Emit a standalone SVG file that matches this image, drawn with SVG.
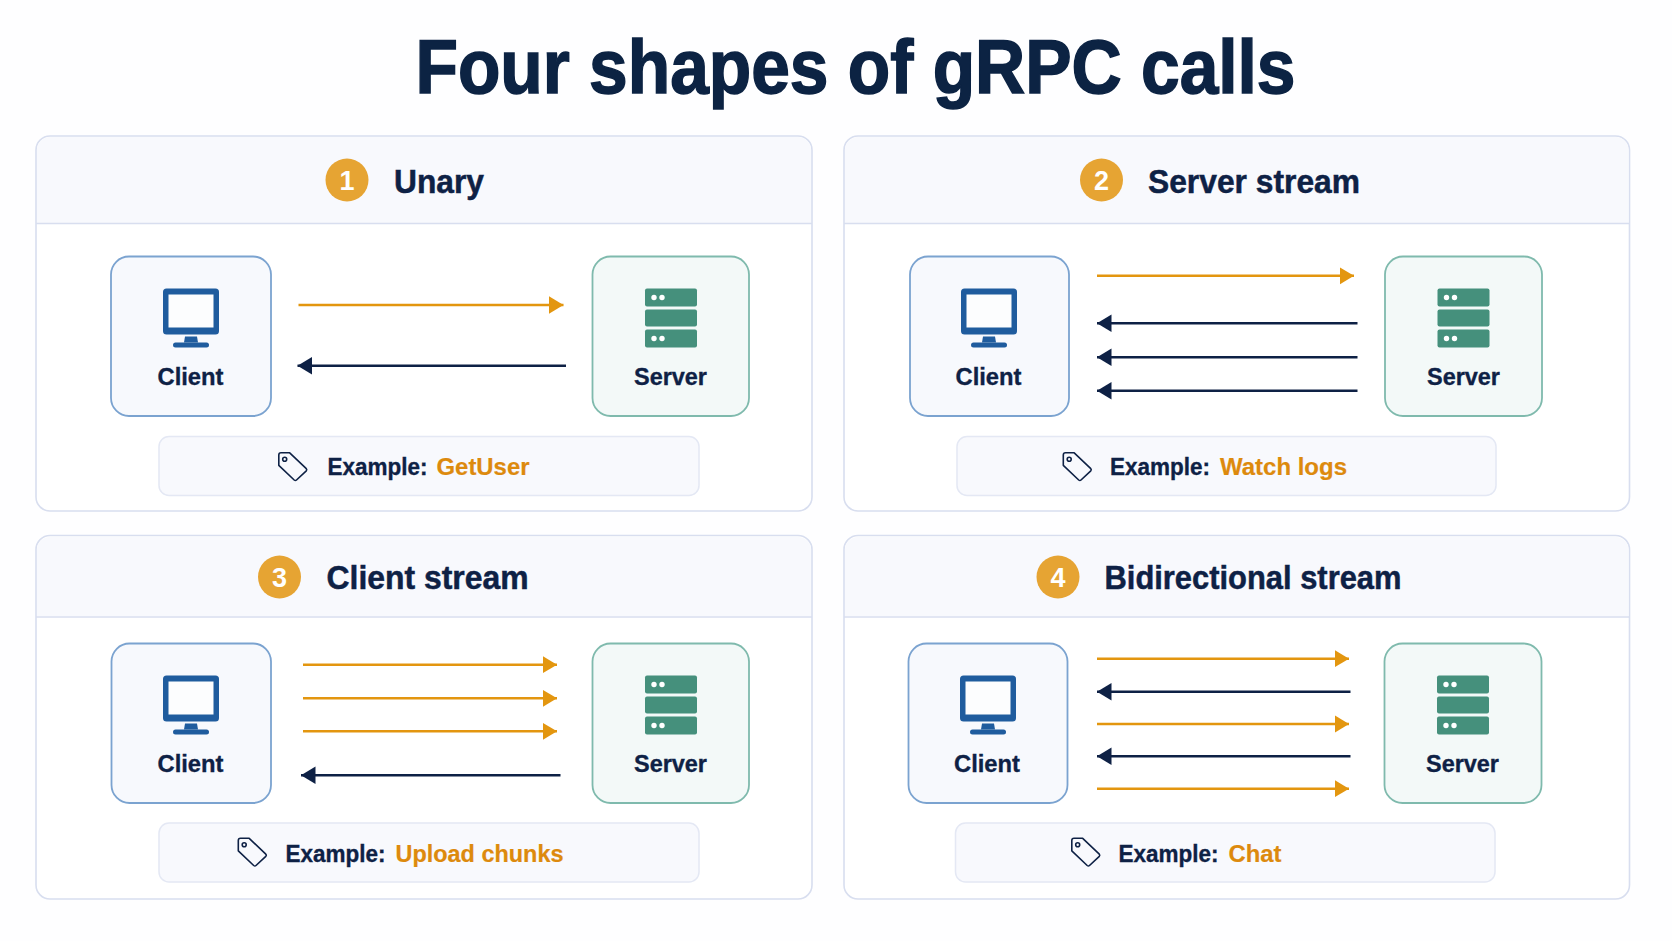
<svg xmlns="http://www.w3.org/2000/svg" width="1672" height="941" viewBox="0 0 1672 941">
<style>
text{font-family:"Liberation Sans",Arial,sans-serif;font-weight:700;fill:#0E2145;stroke:#0E2145;stroke-width:.35}
.title{font-size:76px;fill:#0C2343;stroke:#0C2343;stroke-width:1.5}
.head{font-size:33.5px;stroke-width:.5}
.name{font-size:24.5px;text-anchor:middle}
.ex{font-size:23.5px}
.val{fill:#DD8A0D;stroke:#DD8A0D;stroke-width:.2}
.num{font-size:27px;fill:#fff;stroke:none;text-anchor:middle}
.panel{fill:#fff;stroke:#D8DEEF;stroke-width:1.6}
.hd{fill:#F8F9FD}
.rule{stroke:#D8DEEF;stroke-width:1.6}
.badge{fill:#E6A433}
.client{fill:#F7F9FD;stroke:#7BA3D0;stroke-width:1.8}
.server{fill:#F3F9F8;stroke:#7FBAAD;stroke-width:1.8}
.note{fill:#F8F9FD;stroke:#E4E8F4;stroke-width:1.5}
.o{stroke:#E3960F;stroke-width:2.6;fill:none;marker-end:url(#ah-o)}
.n{stroke:#0E2145;stroke-width:2.6;fill:none;marker-end:url(#ah-n)}
</style>
<defs>
<marker id="ah-o" markerUnits="userSpaceOnUse" markerWidth="16" markerHeight="18" refX="14.500" refY="9" orient="auto"><path d="M0,0.3L14.500,9L0,17.700z" fill="#E3960F"/></marker>
<marker id="ah-n" markerUnits="userSpaceOnUse" markerWidth="16" markerHeight="18" refX="14.500" refY="9" orient="auto"><path d="M0,0.3L14.500,9L0,17.700z" fill="#0E2145"/></marker>
<g id="monitor">
<rect x="0" y="0" width="56" height="46" rx="3.5" fill="#1F5C9E"/>
<rect x="5.5" y="6" width="45" height="33" fill="#FCFDFE"/>
<path d="M22,48H34L35,54H21z" fill="#1F5C9E"/>
<rect x="10" y="54" width="36" height="5" rx="2.5" fill="#1F5C9E"/>
</g>
<g id="rack">
<rect x="0" y="0" width="52" height="18" rx="2" fill="#45907C"/>
<rect x="0" y="21" width="52" height="17" rx="2" fill="#45907C"/>
<rect x="0" y="41" width="52" height="18" rx="2" fill="#45907C"/>
<circle cx="9" cy="9" r="2.7" fill="#fff"/><circle cx="17" cy="9" r="2.7" fill="#fff"/>
<circle cx="9" cy="50" r="2.7" fill="#fff"/><circle cx="17" cy="50" r="2.7" fill="#fff"/>
</g>
<g id="tag" fill="none" stroke="#0E2145" stroke-width="1.6" stroke-linejoin="round">
<path d="M3,0.8H11.7L28.3,16.7Q29.2,17.8 28.3,18.8L18.5,28Q17.4,29 16.2,28L0.8,13.3V3Q0.8,0.8 3,0.8z"/>
<circle cx="6.7" cy="7.3" r="2"/>
</g>
</defs>
<rect width="1672" height="941" fill="#FEFEFF"/>
<text class="title" x="415.500" y="92.700" textLength="880" lengthAdjust="spacingAndGlyphs">Four shapes of gRPC calls</text>

<g id="panel-1">
<rect class="panel" x="36" y="136" width="776" height="375" rx="14"/>
<path class="hd" d="M37,223V150a13,13 0 0 1 13-13H798a13,13 0 0 1 13,13V223z"/>
<line class="rule" x1="36" y1="223.500" x2="812" y2="223.500"/>
<circle class="badge" cx="347" cy="180" r="21.5"/><text class="num" x="347" y="189.500">1</text>
<text class="head" x="394" y="192.500" textLength="90" lengthAdjust="spacingAndGlyphs">Unary</text>
<rect class="note" x="159" y="436.500" width="540" height="59" rx="10"/>
<use href="#tag" x="278" y="452"/>
<text class="ex" x="327.500" y="475" textLength="100" lengthAdjust="spacingAndGlyphs">Example:</text>
<text class="ex val" x="436.500" y="475" textLength="93" lengthAdjust="spacingAndGlyphs">GetUser</text>
</g>
<g id="client-1"><rect class="client" x="111" y="256.500" width="160" height="159.500" rx="18"/><use href="#monitor" x="163" y="288.500"/><text class="name" x="190.500" y="385" textLength="66" lengthAdjust="spacingAndGlyphs">Client</text></g>
<g id="server-1"><rect class="server" x="592.500" y="256.500" width="156.500" height="159.500" rx="18"/><use href="#rack" x="645" y="288.500"/><text class="name" x="670.500" y="385" textLength="73" lengthAdjust="spacingAndGlyphs">Server</text></g>

<g id="panel-2">
<rect class="panel" x="844" y="136" width="785.500" height="375" rx="14"/>
<path class="hd" d="M845,223V150a13,13 0 0 1 13-13H1615.500a13,13 0 0 1 13,13V223z"/>
<line class="rule" x1="844" y1="223.500" x2="1629.500" y2="223.500"/>
<circle class="badge" cx="1101.500" cy="180" r="21.5"/><text class="num" x="1101.500" y="189.500">2</text>
<text class="head" x="1148" y="192.500" textLength="212" lengthAdjust="spacingAndGlyphs">Server stream</text>
<rect class="note" x="957" y="436.500" width="539" height="59" rx="10"/>
<use href="#tag" x="1062.500" y="452"/>
<text class="ex" x="1110" y="475" textLength="100" lengthAdjust="spacingAndGlyphs">Example:</text>
<text class="ex val" x="1220" y="475" textLength="127" lengthAdjust="spacingAndGlyphs">Watch logs</text>
</g>
<g id="client-2"><rect class="client" x="910" y="256.500" width="159" height="159.500" rx="18"/><use href="#monitor" x="961" y="288.500"/><text class="name" x="988.500" y="385" textLength="66" lengthAdjust="spacingAndGlyphs">Client</text></g>
<g id="server-2"><rect class="server" x="1385" y="256.500" width="157" height="159.500" rx="18"/><use href="#rack" x="1437.500" y="288.500"/><text class="name" x="1463.500" y="385" textLength="73" lengthAdjust="spacingAndGlyphs">Server</text></g>

<g id="panel-3">
<rect class="panel" x="36" y="535.500" width="776" height="363.500" rx="14"/>
<path class="hd" d="M37,616V550a13,13 0 0 1 13-13H798a13,13 0 0 1 13,13V616z"/>
<line class="rule" x1="36" y1="617" x2="812" y2="617"/>
<circle class="badge" cx="279.500" cy="577" r="21.5"/><text class="num" x="279.500" y="586.500">3</text>
<text class="head" x="326.500" y="589" textLength="202" lengthAdjust="spacingAndGlyphs">Client stream</text>
<rect class="note" x="159" y="823" width="540" height="59" rx="10"/>
<use href="#tag" x="237.500" y="837.500"/>
<text class="ex" x="285.500" y="862" textLength="100" lengthAdjust="spacingAndGlyphs">Example:</text>
<text class="ex val" x="395.500" y="862" textLength="168" lengthAdjust="spacingAndGlyphs">Upload chunks</text>
</g>
<g id="client-3"><rect class="client" x="111.500" y="643.500" width="159.500" height="159.500" rx="18"/><use href="#monitor" x="163" y="675.500"/><text class="name" x="190.500" y="772.300" textLength="66" lengthAdjust="spacingAndGlyphs">Client</text></g>
<g id="server-3"><rect class="server" x="592.500" y="643.500" width="156.500" height="159.500" rx="18"/><use href="#rack" x="645" y="675.500"/><text class="name" x="670.500" y="772.300" textLength="73" lengthAdjust="spacingAndGlyphs">Server</text></g>

<g id="panel-4">
<rect class="panel" x="844" y="535.500" width="785.500" height="363.500" rx="14"/>
<path class="hd" d="M845,616V550a13,13 0 0 1 13-13H1615.500a13,13 0 0 1 13,13V616z"/>
<line class="rule" x1="844" y1="617" x2="1629.500" y2="617"/>
<circle class="badge" cx="1058" cy="577" r="21.5"/><text class="num" x="1058" y="586.500">4</text>
<text class="head" x="1104.500" y="589" textLength="297" lengthAdjust="spacingAndGlyphs">Bidirectional stream</text>
<rect class="note" x="955.500" y="823" width="539.500" height="59" rx="10"/>
<use href="#tag" x="1071" y="837.500"/>
<text class="ex" x="1118.500" y="862" textLength="100" lengthAdjust="spacingAndGlyphs">Example:</text>
<text class="ex val" x="1228.500" y="862" textLength="53" lengthAdjust="spacingAndGlyphs">Chat</text>
</g>
<g id="client-4"><rect class="client" x="908.500" y="643.500" width="159" height="159.500" rx="18"/><use href="#monitor" x="960" y="675.500"/><text class="name" x="987" y="772.300" textLength="66" lengthAdjust="spacingAndGlyphs">Client</text></g>
<g id="server-4"><rect class="server" x="1384.500" y="643.500" width="157" height="159.500" rx="18"/><use href="#rack" x="1437" y="675.500"/><text class="name" x="1462.500" y="772.300" textLength="73" lengthAdjust="spacingAndGlyphs">Server</text></g>

<g id="connectors">
<line class="o" x1="298.500" y1="305" x2="563.500" y2="305"/>
<line class="n" x1="566" y1="365.700" x2="297.500" y2="365.700"/>
<line class="o" x1="1097" y1="275.800" x2="1354" y2="275.800"/>
<line class="n" x1="1357.500" y1="323.300" x2="1097" y2="323.300"/>
<line class="n" x1="1357.500" y1="357.300" x2="1097" y2="357.300"/>
<line class="n" x1="1357.500" y1="390.800" x2="1097" y2="390.800"/>
<line class="o" x1="303" y1="664.700" x2="557" y2="664.700"/>
<line class="o" x1="303" y1="698.300" x2="557" y2="698.300"/>
<line class="o" x1="303" y1="731.300" x2="557" y2="731.300"/>
<line class="n" x1="560.500" y1="775.300" x2="301" y2="775.300"/>
<line class="o" x1="1097" y1="658.700" x2="1349" y2="658.700"/>
<line class="n" x1="1350.500" y1="691.700" x2="1097" y2="691.700"/>
<line class="o" x1="1097" y1="724" x2="1349" y2="724"/>
<line class="n" x1="1350.500" y1="756.300" x2="1097" y2="756.300"/>
<line class="o" x1="1097" y1="788.700" x2="1349" y2="788.700"/>
</g>
</svg>
